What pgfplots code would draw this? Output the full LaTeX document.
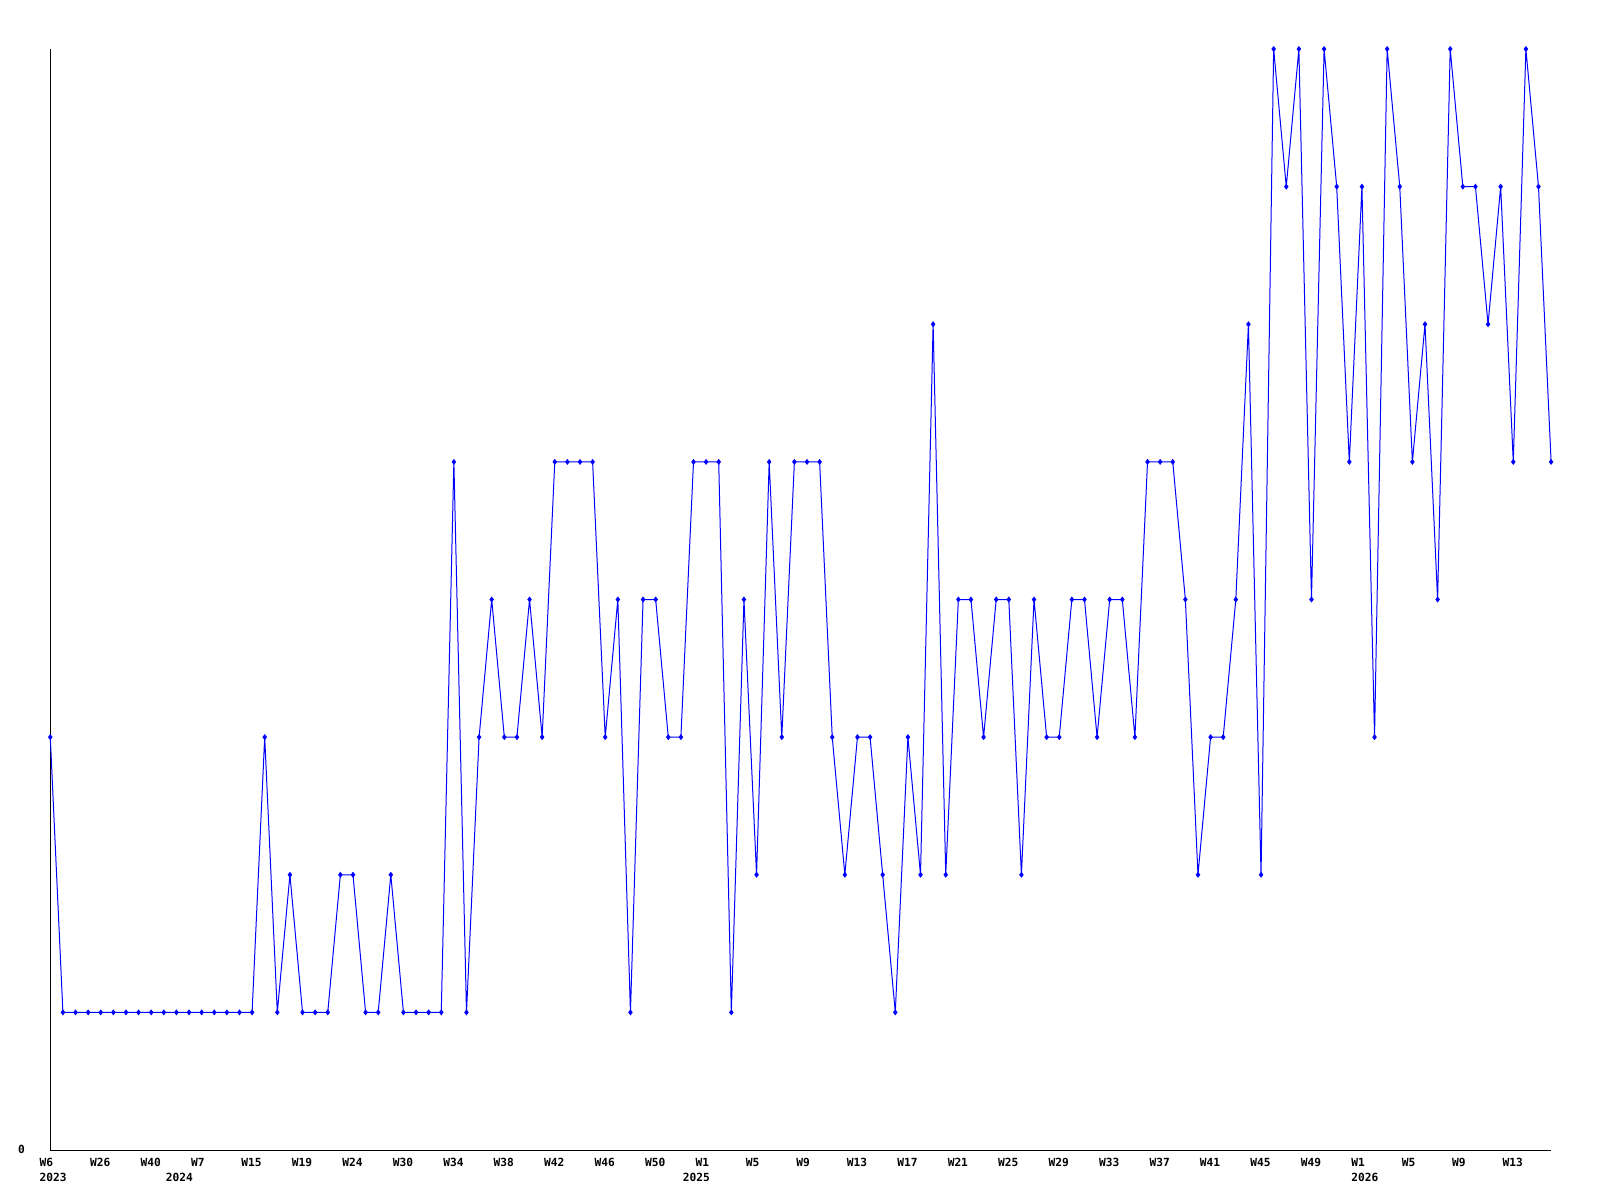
\documentclass[border=0pt]{standalone}
\usepackage{fontspec}
\usepackage{pgfplots}
\usepackage{pgfplotstable}
\pgfplotsset{compat=1.18}
\newfontfamily\labelfont{DejaVu Sans Mono}
\definecolor{lineblue}{RGB}{0,0,255}
\newcommand{\lblfont}{\labelfont\bfseries\fontsize{5.6pt}{7pt}\selectfont}

\pgfplotstableread{
idx count
0 3
1 1
2 1
3 1
4 1
5 1
6 1
7 1
8 1
9 1
10 1
11 1
12 1
13 1
14 1
15 1
16 1
17 3
18 1
19 2
20 1
21 1
22 1
23 2
24 2
25 1
26 1
27 2
28 1
29 1
30 1
31 1
32 5
33 1
34 3
35 4
36 3
37 3
38 4
39 3
40 5
41 5
42 5
43 5
44 3
45 4
46 1
47 4
48 4
49 3
50 3
51 5
52 5
53 5
54 1
55 4
56 2
57 5
58 3
59 5
60 5
61 5
62 3
63 2
64 3
65 3
66 2
67 1
68 3
69 2
70 6
71 2
72 4
73 4
74 3
75 4
76 4
77 2
78 4
79 3
80 3
81 4
82 4
83 3
84 4
85 4
86 3
87 5
88 5
89 5
90 4
91 2
92 3
93 3
94 4
95 6
96 2
97 8
98 7
99 8
100 4
101 8
102 7
103 5
104 7
105 3
106 8
107 7
108 5
109 6
110 4
111 8
112 7
113 7
114 6
115 7
116 5
117 8
118 7
119 5
}\weekly

\begin{document}
\begin{tikzpicture}
\begin{axis}[
  at={(0,0)}, anchor=south west,
  width=750.4pt, height=550.5pt, scale only axis,
  xmin=0, xmax=119, ymin=0, ymax=8,
  axis x line*=bottom, axis y line*=left,
  axis line style={black, line width=0.5pt},
  major tick length=0pt,
  /pgf/number format/assume math mode=true,
  xtick={0,4,...,116},
  xticklabels={W6,W26,W40,W7,W15,W19,W24,W30,W34,W38,W42,W46,W50,W1,W5,W9,W13,W17,W21,W25,W29,W33,W37,W41,W45,W49,W1,W5,W9,W13},
  xticklabel style={font=\lblfont, anchor=base west, inner sep=0pt, xshift=-5.5pt, yshift=-8pt},
  ytick={0},
  yticklabel style={font=\lblfont, anchor=base east, inner sep=0pt, xshift=-12.5pt, yshift=-1.65pt},
  clip=false,
]
\addplot[lineblue, line width=0.5pt, mark=diamond*, mark size=1.1pt, mark options={lineblue}] table[x=idx, y=count] {\weekly};
\begin{scope}[every node/.style={font=\lblfont, anchor=base west, inner sep=0pt, xshift=-5.5pt, yshift=-15.5pt}]
\node at (axis cs:0,0) {2023};
\node at (axis cs:10,0) {2024};
\node at (axis cs:51,0) {2025};
\node at (axis cs:104,0) {2026};
\end{scope}
\end{axis}
\pgfresetboundingbox
\path[use as bounding box] (-25.15pt,-25pt) rectangle (774.85pt,575pt);
\end{tikzpicture}
\end{document}
